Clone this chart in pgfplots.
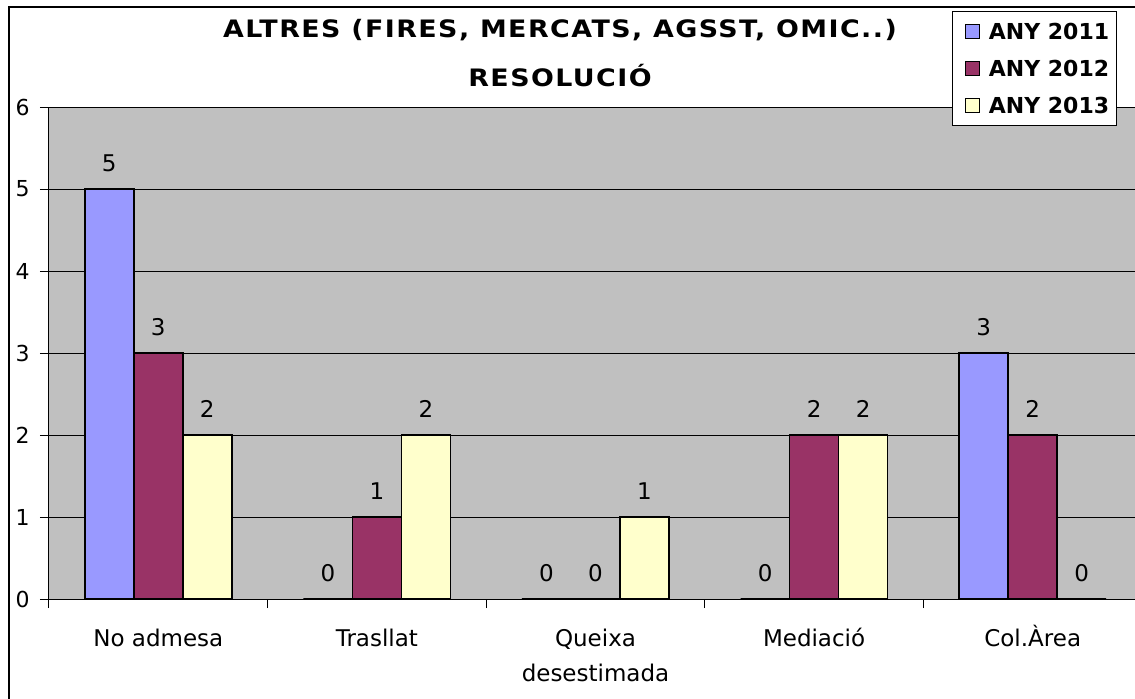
\documentclass[border=0pt]{standalone}
\usepackage{fontspec}
\setmainfont{DejaVu Sans}
\newfontfamily\titlefont{DejaVu Sans}[LetterSpace=6, FakeStretch=1.12]
\usepackage{pgfplots}
\pgfplotsset{compat=1.18}
\definecolor{c1}{HTML}{9999FF}
\definecolor{c2}{HTML}{993366}
\definecolor{c3}{HTML}{FFFFCC}
\definecolor{bg}{HTML}{C0C0C0}
\newcommand\hs{\rule{0pt}{11pt}}
\begin{document}
\begin{tikzpicture}[x=1pt,y=1pt]
\useasboundingbox (0,0) rectangle (567.5,349);
\fill[white] (0,0) rectangle (567.5,349);
\draw[line width=0.75pt] (4.5,-20) rectangle (600,345.5);
\node[anchor=base, font=\titlefont\bfseries\fontsize{12}{14}\selectfont] at (280,330) {ALTRES (FIRES, MERCATS, AGSST, OMIC..)};
\node[anchor=base, font=\titlefont\bfseries\fontsize{12}{14}\selectfont] at (280,305.5) {RESOLUCIÓ};
\begin{axis}[
  at={(24.5pt,49.5pt)}, anchor=south west,
  scale only axis, width=546.5pt, height=246pt,
  xmin=-0.5, xmax=4.5, ymin=0, ymax=6,
  ybar=0pt, bar width=24.5pt,
  axis background/.style={fill=bg},
  axis line style={black, line width=0.5pt},
  ytick={0,...,6}, ymajorgrids, grid style={black, line width=0.5pt},
  tick align=outside, major tick length=4.5pt, tick style={black, line width=0.5pt},
  xtick pos=left, ytick pos=left,
  xtick={-0.5,0.5,...,4.5}, x tick label as interval,
  xticklabels={\hs No admesa, \hs Trasllat, {\hs Queixa\\desestimada}, \hs Mediació, \hs Col.Àrea},
  xticklabel style={align=center, font=\fontsize{11.5}{17.5}\selectfont, anchor=north, inner sep=0pt, yshift=-8pt},
  /pgf/number format/assume math mode=true,
  yticklabel style={font=\fontsize{11}{13}\selectfont, anchor=east, inner sep=0pt, xshift=-5pt},
  nodes near coords,
  nodes near coords style={font=\fontsize{11.5}{13}\selectfont, anchor=base, inner sep=0pt, yshift=9pt, text=black},
  legend style={at={(0.8262,1.1951)}, anchor=north west, draw=black, fill=white, line width=0.5pt,
    inner xsep=3.5pt, inner ysep=6pt, row sep=10.5pt,
    font=\bfseries\fontsize{11}{13}\selectfont,
    nodes={inner sep=0pt, text height=8pt, text depth=0pt},
    /tikz/every odd column/.append style={column sep=4.5pt}},
  legend cell align=left,
  legend image code/.code={\path (0pt,0pt); \draw[#1, line width=0.6pt] (2.5pt,-3.5pt) rectangle (9.5pt,3.5pt);},
]
\addplot[fill=c1, draw=black, line width=0.75pt] coordinates {(0,5) (1,0) (2,0) (3,0) (4,3)};
\addplot[fill=c2, draw=black, line width=0.75pt] coordinates {(0,3) (1,1) (2,0) (3,2) (4,2)};
\addplot[fill=c3, draw=black, line width=0.75pt] coordinates {(0,2) (1,2) (2,1) (3,2) (4,0)};
\legend{ANY 2011, ANY 2012, ANY 2013}
\end{axis}
\end{tikzpicture}
\end{document}
